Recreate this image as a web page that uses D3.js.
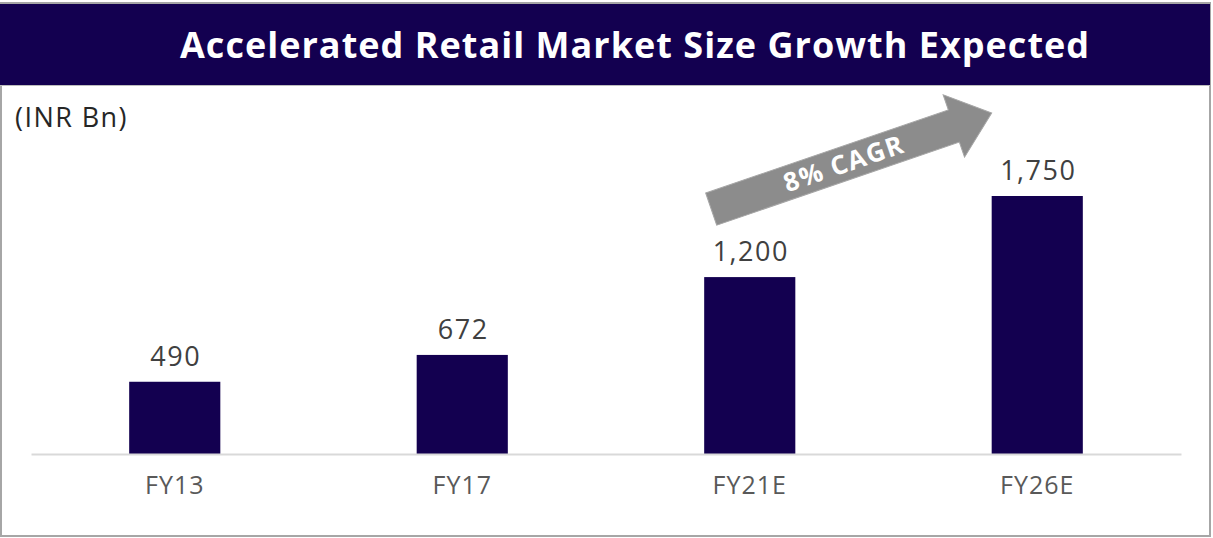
<!DOCTYPE html>
<html>
<head>
<meta charset="utf-8">
<script src="https://cdn.jsdelivr.net/npm/d3@7"></script>
<style>
  body { margin: 0; background: #fff; }
  svg { display: block; }
</style>
</head>
<body>
<div id="chart"></div>
<script>
// data
var categories = ['FY13', 'FY17', 'FY21E', 'FY26E'];
var values = [490, 672, 1200, 1750];
var valueLabels = ['490', '672', '1,200', '1,750'];
var unitLabel = '(INR Bn)';
var titleText = 'Accelerated Retail Market Size Growth Expected';
var cagrText = '8% CAGR';

var W = 1213, H = 538;
var font = '"Open Sans", sans-serif';

var svg = d3.select('#chart')
  .append('svg')
  .attr('width', W)
  .attr('height', H);

// spread letters so a text spans the wanted width
function fitWidth(t, target) {
  var n = t.text().length;
  var len = t.node().getComputedTextLength();
  t.attr('letter-spacing', ((target - len) / n).toFixed(2));
}

// outer frame
svg.append('rect')
  .attr('x', 1).attr('y', 3)
  .attr('width', 1209).attr('height', 533)
  .attr('fill', '#fff')
  .attr('stroke', '#a6a6a6')
  .attr('stroke-width', 2);

// title band
svg.append('rect')
  .attr('x', 0).attr('y', 4)
  .attr('width', 1210).attr('height', 81)
  .attr('fill', '#130050');
svg.append('line')
  .attr('x1', 0).attr('x2', 1210)
  .attr('y1', 85.5).attr('y2', 85.5)
  .attr('stroke', '#bdbdbd').attr('stroke-width', 1);

var title = svg.append('text')
  .attr('x', 180).attr('y', 58)
  .attr('font-family', font)
  .attr('font-weight', 'bold')
  .attr('font-size', 36)
  .attr('fill', '#fff')
  .text(titleText);
fitWidth(title, 910);

var unit = svg.append('text')
  .attr('x', 15).attr('y', 127)
  .attr('font-family', font)
  .attr('font-size', 27)
  .attr('fill', '#262626')
  .text(unitLabel);
fitWidth(unit, 113);

// scales
var x = d3.scaleBand()
  .domain(categories)
  .range([31, 1181])
  .paddingInner(0.683)
  .paddingOuter(0.3415);

var y = d3.scaleLinear()
  .domain([0, 1750])
  .range([454, 196]);

// bars
svg.selectAll('.bar')
  .data(values)
  .enter()
  .append('rect')
  .attr('class', 'bar')
  .attr('x', function(d, i){ return x(categories[i]); })
  .attr('y', function(d){ return y(d); })
  .attr('width', x.bandwidth())
  .attr('height', function(d){ return y(0) - y(d); })
  .attr('fill', '#130050');

// value labels
svg.selectAll('.val')
  .data(values)
  .enter()
  .append('text')
  .attr('class', 'val')
  .attr('x', function(d, i){ return x(categories[i]) + x.bandwidth() / 2 + 1; })
  .attr('y', function(d){ return y(d) - 16; })
  .attr('text-anchor', 'middle')
  .attr('font-family', font)
  .attr('font-size', 27)
  .attr('letter-spacing', 1.5)
  .attr('fill', '#404040')
  .text(function(d, i){ return valueLabels[i]; });

// x axis
var xAxis = svg.append('g')
  .attr('transform', 'translate(0,' + y(0) + ')')
  .call(d3.axisBottom(x).tickSize(0).tickPadding(22));
xAxis.select('.domain')
  .attr('stroke', '#d9d9d9')
  .attr('stroke-width', 2);
xAxis.selectAll('text')
  .attr('font-family', font)
  .attr('font-size', 25)
  .attr('letter-spacing', 1)
  .attr('fill', '#595959');

// CAGR arrow, from the FY21E bar toward the FY26E bar
var tail = [x('FY21E') + 7, y(1200) - 68];
var tip = [x('FY26E'), y(1750) - 83];
var dx = tip[0] - tail[0], dy = tip[1] - tail[1];
var len = Math.sqrt(dx * dx + dy * dy);
var ang = Math.atan2(dy, dx) * 180 / Math.PI;
var sw = 17, hw = 33, hl = 40;

var arrow = svg.append('g')
  .attr('transform', 'translate(' + tail[0] + ',' + tail[1] + ') rotate(' + ang + ')');
arrow.append('path')
  .attr('d', d3.line()([
    [0, -sw], [len - hl, -sw], [len - hl, -hw], [len, 0],
    [len - hl, hw], [len - hl, sw], [0, sw]
  ]) + 'Z')
  .attr('fill', '#8c8c8c')
  .attr('stroke', '#a6a6a6')
  .attr('stroke-width', 1);
var cagr = arrow.append('text')
  .attr('x', (len - hl) / 2 + 12)
  .attr('y', 9)
  .attr('text-anchor', 'middle')
  .attr('font-family', font)
  .attr('font-weight', 'bold')
  .attr('font-size', 26)
  .attr('fill', '#fff')
  .text(cagrText);
fitWidth(cagr, 126);
</script>
</body>
</html>
